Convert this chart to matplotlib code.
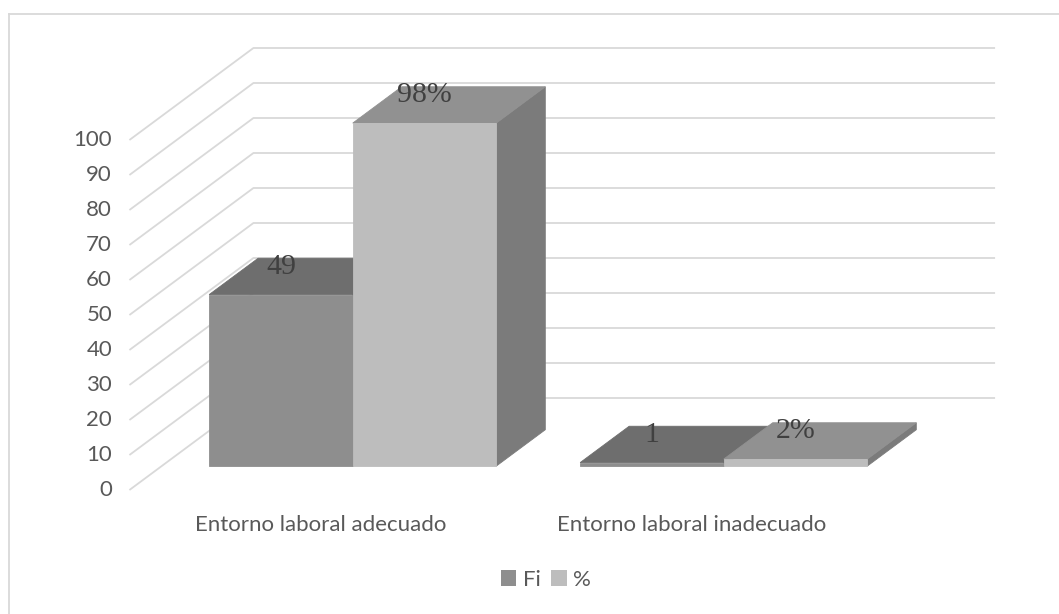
import matplotlib
matplotlib.use("Agg")
import matplotlib.pyplot as plt
from matplotlib.patches import Polygon, Patch
from matplotlib.lines import Line2D

# ---------------- data ----------------
categories = ["Entorno laboral adecuado", "Entorno laboral inadecuado"]
series_names = ["Fi", "%"]
fi_values = [49, 1]
pct_values = [98, 2]
fi_labels = ["49", "1"]
pct_labels = ["98%", "2%"]
yticks = [0, 10, 20, 30, 40, 50, 60, 70, 80, 90, 100]

# ---------------- styling / layout ----------------
W, H, DPI = 1059, 614, 100
PX_X = 371.0          # pixels per category unit
PX_Y = 3.5            # pixels per value unit
X0_PX = 320.5         # pixel of category 0 on front plane
Y0_PX = 490.0         # pixel of value 0 on front plane
DX = 124.0 / PX_X     # depth offset (category units)
DY = 92.0 / PX_Y      # depth offset (value units)
XLO, XHI = -0.515, 1.484
BAR_W = 0.387
D0, D1 = 0.26, 0.655

colors = {
    "Fi": {"front": "#8e8e8e", "top": "#6e6e6e", "side": "#767676"},
    "%": {"front": "#bdbdbd", "top": "#919191", "side": "#7b7b7b"},
}
grid_color = "#d9d9d9"
text_color = "#595959"
FONT = "Lato"
FS = 16

fig = plt.figure(figsize=(W / DPI, H / DPI), dpi=DPI)
ax = fig.add_axes([0, 0, 1, 1])
ax.set_xlim(-X0_PX / PX_X, (W - X0_PX) / PX_X)
ax.set_ylim((Y0_PX - H) / PX_Y, Y0_PX / PX_Y)
ax.axis("off")


def P(x, y, d):
    return (x + d * DX, y + d * DY)


# gridlines (side wall + back wall)
for v in yticks:
    a = P(XLO, v, 0)
    b = P(XLO, v, 1)
    c = P(XHI, v, 1)
    ax.plot([a[0], b[0], c[0]], [a[1], b[1], c[1]], color=grid_color,
            lw=1.3, solid_capstyle="butt", zorder=1)
    ax.annotate(str(v), xy=(XLO, v), xytext=(-12.5, 0), textcoords="offset points",
                ha="right", va="center", fontsize=FS, color=text_color,
                family=FONT)


def draw_bar(x0, x1, v, cols, z):
    front = [P(x0, 0, D0), P(x1, 0, D0), P(x1, v, D0), P(x0, v, D0)]
    top = [P(x0, v, D0), P(x1, v, D0), P(x1, v, D1), P(x0, v, D1)]
    side = [P(x1, 0, D0), P(x1, 0, D1), P(x1, v, D1), P(x1, v, D0)]
    for pts, key in ((side, "side"), (top, "top"), (front, "front")):
        ax.add_patch(Polygon(pts, closed=True, facecolor=cols[key],
                             edgecolor=cols[key], lw=0.6, zorder=z))


for i, cat in enumerate(categories):
    draw_bar(i - BAR_W, i, fi_values[i], colors["Fi"], 3)
    draw_bar(i, i + BAR_W, pct_values[i], colors["%"], 4)
    fx, fy = P(i - BAR_W / 2, fi_values[i], D0)
    ax.annotate(fi_labels[i], xy=(fx, fy), xytext=(0, 20), textcoords="offset points",
                ha="center", va="center", fontsize=21.5, color="#404040",
                family="Liberation Serif", zorder=6)
    px_, py_ = P(i + BAR_W / 2, pct_values[i], D0)
    ax.annotate(pct_labels[i], xy=(px_, py_), xytext=(0, 20), textcoords="offset points",
                ha="center", va="center", fontsize=21.5, color="#404040",
                family="Liberation Serif", zorder=6)
    ax.annotate(cat, xy=(i, 0), xytext=(0, -25), textcoords="offset points",
                ha="center", va="center", fontsize=FS, color=text_color,
                family=FONT)

# legend
handles = [Patch(facecolor=colors["Fi"]["front"], edgecolor="none", label=series_names[0]),
           Patch(facecolor=colors["%"]["front"], edgecolor="none", label=series_names[1])]
fig.legend(handles=handles, loc="center", bbox_to_anchor=(546 / W, 1 - 580 / H),
           ncol=2, frameon=False, handlelength=0.7, handleheight=0.7,
           handletextpad=0.3, columnspacing=0.45,
           prop={"family": FONT, "size": FS}, labelcolor=text_color)

# chart border (top and left visible)
fig.add_artist(Line2D([9 / W, 1.0], [1 - 14 / H, 1 - 14 / H], transform=fig.transFigure,
                      color=grid_color, lw=1.3))
fig.add_artist(Line2D([9 / W, 9 / W], [0, 1 - 14 / H], transform=fig.transFigure,
                      color=grid_color, lw=1.3))

fig.savefig("out.png", dpi=DPI)
